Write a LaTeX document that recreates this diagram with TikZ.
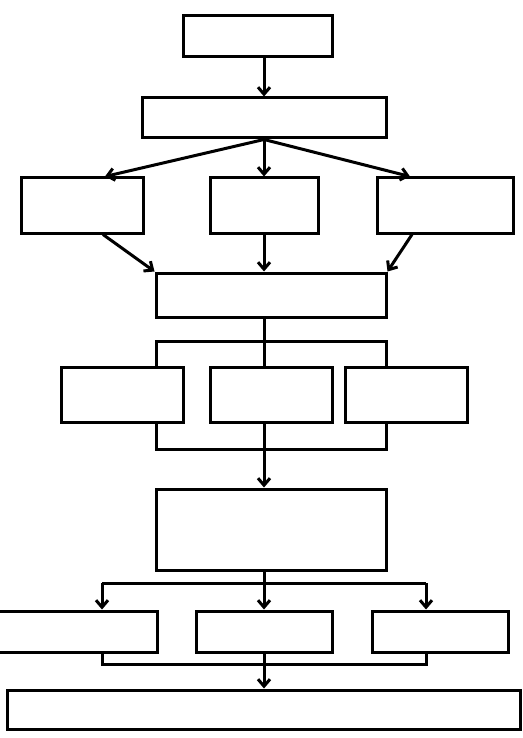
\documentclass[tikz,border=0pt]{standalone}
\usetikzlibrary{arrows.meta}
\tikzset{
  blk/.style={draw, rectangle, line width=3pt, inner sep=0pt},
  lnk/.style={line width=3pt},
  arr/.style={line width=3pt, -{Straight Barb[length=7pt,width=12pt]}},
}
\begin{document}
\begin{tikzpicture}[x=1pt,y=-1pt]
\useasboundingbox (0,0) rectangle (522,738);
\coordinate (ax) at (264,0);

\node[blk,minimum width=149pt,minimum height=41pt] (top) at (257.5,36.5) {};
\node[blk,minimum width=244pt,minimum height=40pt] (mid) at (264,118) {};

\node[blk,minimum width=122pt,minimum height=55pt] (l1) at (82,205.5) {};
\node[blk,minimum width=108pt,minimum height=55pt] (c1) at (264,205.5) {};
\node[blk,minimum width=136pt,minimum height=55pt] (r1) at (445,205.5) {};

\node[blk,minimum width=230pt,minimum height=44pt] (merge) at (271,295) {};

\node[blk,minimum width=122pt,minimum height=55pt] (s1) at (122,394.5) {};
\node[blk,minimum width=122pt,minimum height=55pt] (s2) at (271,394.5) {};
\node[blk,minimum width=122pt,minimum height=55pt] (s3) at (406,394.5) {};

\node[blk,minimum width=230pt,minimum height=81pt] (res) at (271,529.5) {};

\node[blk,minimum width=159pt,minimum height=41pt] (o1) at (77.5,631.5) {};
\node[blk,minimum width=136pt,minimum height=41pt] (o2) at (264,631.5) {};
\node[blk,minimum width=136pt,minimum height=41pt] (o3) at (440,631.5) {};

\node[blk,minimum width=513pt,minimum height=39pt] (final) at (263.5,709.5) {};

% top part
\draw[arr] (top.south -| ax) -- (mid.north);
\draw[arr] (mid.south) -- ([xshift=23pt]l1.north);
\draw[arr] (mid.south) -- (c1.north);
\draw[arr] (mid.south) -- ([xshift=-35pt]r1.north);
\draw[arr] ([xshift=21pt]l1.south) -- (merge.north west);
\draw[arr] (c1.south) -- (merge.north -| ax);
\draw[arr] ([xshift=-33pt]r1.south) -- (merge.north east);

% brackets round the middle row
\coordinate (b1l) at (156,341);
\coordinate (b1r) at (386,341);
\coordinate (b2l) at (156,449);
\coordinate (b2r) at (386,449);
\draw[lnk] (merge.south -| ax) -- (s2.north -| ax);
\draw[lnk] (s1.north -| b1l) -- (b1l) -- (b1r) -- (s3.north -| b1r);
\draw[lnk] (s1.south -| b2l) -- (b2l) -- (b2r) -- (s3.south -| b2r);
\draw[lnk] (s2.south -| ax) -- (ax |- b2l);
\draw[arr] (ax |- b2l) -- (res.north -| ax);

% lower part
\coordinate (b3l) at (102,583);
\coordinate (b3r) at (426,583);
\coordinate (b4l) at (102,664);
\coordinate (b4r) at (426,664);
\draw[lnk] (res.south -| ax) -- (ax |- b3l);
\draw[lnk] (b3l) -- (b3r);
\draw[arr] (b3l) -- (o1.north -| b3l);
\draw[arr] (ax |- b3l) -- (o2.north);
\draw[arr] (b3r) -- (o3.north -| b3r);
\draw[lnk] (o1.south -| b4l) -- (b4l) -- (b4r) -- (o3.south -| b4r);
\draw[lnk] (o2.south) -- (ax |- b4l);
\draw[arr] (ax |- b4l) -- (final.north -| ax);
\end{tikzpicture}
\end{document}
